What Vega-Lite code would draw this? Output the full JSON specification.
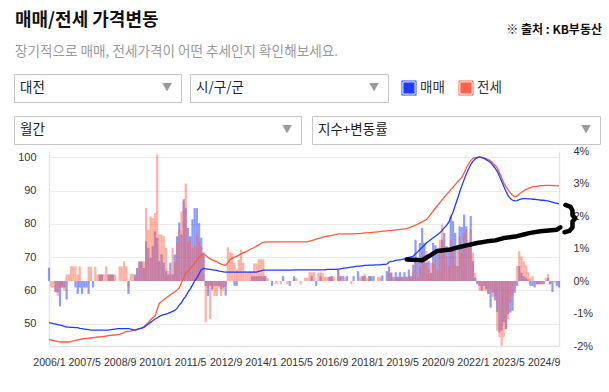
{
  "$schema": "https://vega.github.io/schema/vega-lite/v6.json",
  "background": "white",
  "padding": {"left": 13, "top": 0, "right": 0, "bottom": 0},
  "config": {
    "font": "Noto Sans CJK KR",
    "view": {"stroke": null},
    "axis": {"labelFont": "Liberation Sans", "labelFontSize": 11, "labelColor": "#333333", "ticks": false, "domainColor": "#e4e4e4", "domainWidth": 1.5, "labelOverlap": false, "gridColor": "#ebebeb", "gridWidth": 1},
    "axisX": {"labelFlush": false, "labelPadding": 11, "grid": false, "labelOverlap": false, "labelSeparation": 0, "tickCount": 30, "labelFontSize": 10.6}
  },
  "datasets": {
    "kb": [
      {"d":"2006-01","s":50.3,"j":45.3,"sr":0.41,"jr":0},
      {"d":"2006-02","s":50.2,"j":45.1,"sr":0,"jr":-0.2},
      {"d":"2006-03","s":50.0,"j":45.0,"sr":0,"jr":-0.2},
      {"d":"2006-04","s":49.9,"j":44.8,"sr":-0.35,"jr":-0.3},
      {"d":"2006-05","s":49.7,"j":44.7,"sr":-0.35,"jr":-0.45},
      {"d":"2006-06","s":49.6,"j":44.5,"sr":-0.78,"jr":-0.2},
      {"d":"2006-07","s":49.4,"j":44.5,"sr":-0.2,"jr":-0.2},
      {"d":"2006-08","s":49.2,"j":44.5,"sr":-0.2,"jr":-0.3},
      {"d":"2006-09","s":49.0,"j":44.5,"sr":-0.57,"jr":0.2},
      {"d":"2006-10","s":49.0,"j":44.5,"sr":0,"jr":0.2},
      {"d":"2006-11","s":48.9,"j":44.6,"sr":0,"jr":0.45},
      {"d":"2006-12","s":48.9,"j":44.8,"sr":0,"jr":0.45},
      {"d":"2007-01","s":48.8,"j":45.0,"sr":-0.2,"jr":0.45},
      {"d":"2007-02","s":48.8,"j":45.1,"sr":-0.4,"jr":0.2},
      {"d":"2007-03","s":48.6,"j":45.3,"sr":-0.2,"jr":0.45},
      {"d":"2007-04","s":48.5,"j":45.4,"sr":-0.4,"jr":0},
      {"d":"2007-05","s":48.4,"j":45.5,"sr":-0.2,"jr":0},
      {"d":"2007-06","s":48.3,"j":45.6,"sr":-0.2,"jr":0},
      {"d":"2007-07","s":48.2,"j":45.6,"sr":-0.4,"jr":0.44},
      {"d":"2007-08","s":48.1,"j":45.7,"sr":0,"jr":0.44},
      {"d":"2007-09","s":48.1,"j":45.8,"sr":-0.2,"jr":0},
      {"d":"2007-10","s":48.1,"j":45.9,"sr":0,"jr":0.44},
      {"d":"2007-11","s":48.1,"j":46.0,"sr":0,"jr":0.2},
      {"d":"2007-12","s":48.1,"j":46.0,"sr":0.2,"jr":0.2},
      {"d":"2008-01","s":48.1,"j":46.1,"sr":0.2,"jr":0.2},
      {"d":"2008-02","s":48.1,"j":46.2,"sr":0,"jr":0.2},
      {"d":"2008-03","s":48.1,"j":46.3,"sr":0,"jr":0.45},
      {"d":"2008-04","s":48.1,"j":46.4,"sr":0.2,"jr":0.2},
      {"d":"2008-05","s":48.2,"j":46.5,"sr":0.2,"jr":0.2},
      {"d":"2008-06","s":48.3,"j":46.6,"sr":0.2,"jr":0.2},
      {"d":"2008-07","s":48.4,"j":46.6,"sr":0,"jr":0.2},
      {"d":"2008-08","s":48.5,"j":46.7,"sr":0,"jr":0},
      {"d":"2008-09","s":48.5,"j":46.8,"sr":0,"jr":0.45},
      {"d":"2008-10","s":48.5,"j":47.1,"sr":0,"jr":0.45},
      {"d":"2008-11","s":48.5,"j":47.3,"sr":0,"jr":0.6},
      {"d":"2008-12","s":48.5,"j":47.6,"sr":0,"jr":0.45},
      {"d":"2009-01","s":48.5,"j":47.7,"sr":-0.4,"jr":-0.2},
      {"d":"2009-02","s":48.4,"j":47.8,"sr":0,"jr":0.22},
      {"d":"2009-03","s":48.2,"j":48.0,"sr":0,"jr":0.22},
      {"d":"2009-04","s":48.1,"j":48.1,"sr":0.2,"jr":0.1},
      {"d":"2009-05","s":48.3,"j":48.3,"sr":0.4,"jr":0.4},
      {"d":"2009-06","s":48.5,"j":48.5,"sr":0.6,"jr":0.6},
      {"d":"2009-07","s":48.7,"j":48.7,"sr":0.6,"jr":0.6},
      {"d":"2009-08","s":48.9,"j":49.1,"sr":0.4,"jr":0.6},
      {"d":"2009-09","s":49.4,"j":49.8,"sr":1.22,"jr":2.24},
      {"d":"2009-10","s":49.9,"j":50.4,"sr":1.02,"jr":1.58},
      {"d":"2009-11","s":50.4,"j":51.2,"sr":0.71,"jr":1.99},
      {"d":"2009-12","s":50.9,"j":51.8,"sr":1.07,"jr":1.94},
      {"d":"2010-01","s":51.4,"j":52.3,"sr":1.53,"jr":2.09},
      {"d":"2010-02","s":51.8,"j":54.3,"sr":1.33,"jr":3.9},
      {"d":"2010-03","s":52.2,"j":56.1,"sr":0.61,"jr":1.43},
      {"d":"2010-04","s":52.5,"j":56.7,"sr":0.82,"jr":1.43},
      {"d":"2010-05","s":52.7,"j":57.2,"sr":0.56,"jr":1.38},
      {"d":"2010-06","s":52.9,"j":57.7,"sr":0.31,"jr":1.02},
      {"d":"2010-07","s":53.1,"j":58.2,"sr":0.2,"jr":0.31},
      {"d":"2010-08","s":53.4,"j":58.7,"sr":0.56,"jr":0.2},
      {"d":"2010-09","s":53.7,"j":59.2,"sr":0.2,"jr":1.02},
      {"d":"2010-10","s":54.0,"j":59.6,"sr":0.82,"jr":0.56},
      {"d":"2010-11","s":54.6,"j":60.1,"sr":1.38,"jr":1.17},
      {"d":"2010-12","s":55.6,"j":60.8,"sr":1.8,"jr":1.58},
      {"d":"2011-01","s":56.3,"j":62.3,"sr":1.43,"jr":2.14},
      {"d":"2011-02","s":57.5,"j":64.0,"sr":2.52,"jr":2.45},
      {"d":"2011-03","s":58.2,"j":65.2,"sr":2.24,"jr":3.0},
      {"d":"2011-04","s":59.5,"j":65.8,"sr":1.63,"jr":1.22},
      {"d":"2011-05","s":60.4,"j":66.6,"sr":1.38,"jr":1.33},
      {"d":"2011-06","s":61.6,"j":67.4,"sr":1.9,"jr":1.02},
      {"d":"2011-07","s":62.9,"j":68.2,"sr":2.24,"jr":1.07},
      {"d":"2011-08","s":63.8,"j":69.1,"sr":2.24,"jr":1.43},
      {"d":"2011-09","s":65.0,"j":70.0,"sr":1.78,"jr":1.22},
      {"d":"2011-10","s":66.2,"j":70.6,"sr":1.33,"jr":1.07},
      {"d":"2011-11","s":66.6,"j":71.1,"sr":0.87,"jr":0.77},
      {"d":"2011-12","s":66.5,"j":70.5,"sr":-0.15,"jr":-1.27},
      {"d":"2012-01","s":66.4,"j":70.0,"sr":-0.46,"jr":-0.2},
      {"d":"2012-02","s":66.3,"j":69.5,"sr":-0.15,"jr":-1.17},
      {"d":"2012-03","s":66.2,"j":69.2,"sr":-0.25,"jr":-0.3},
      {"d":"2012-04","s":66.1,"j":68.9,"sr":-0.15,"jr":-0.46},
      {"d":"2012-05","s":66.0,"j":68.6,"sr":-0.15,"jr":-0.46},
      {"d":"2012-06","s":65.8,"j":68.2,"sr":-0.15,"jr":-0.2},
      {"d":"2012-07","s":65.7,"j":67.9,"sr":-0.25,"jr":-0.46},
      {"d":"2012-08","s":65.6,"j":67.7,"sr":-0.2,"jr":-0.3},
      {"d":"2012-09","s":65.5,"j":67.5,"sr":-0.45,"jr":-0.15},
      {"d":"2012-10","s":65.5,"j":68.3,"sr":0,"jr":1.04},
      {"d":"2012-11","s":65.5,"j":69.3,"sr":0,"jr":0.89},
      {"d":"2012-12","s":65.5,"j":69.7,"sr":0,"jr":0.85},
      {"d":"2013-01","s":65.5,"j":70.0,"sr":-0.15,"jr":0.55},
      {"d":"2013-02","s":65.5,"j":70.3,"sr":-0.15,"jr":0.35},
      {"d":"2013-03","s":65.5,"j":70.6,"sr":0,"jr":0.66},
      {"d":"2013-04","s":65.5,"j":71.0,"sr":0,"jr":0.97},
      {"d":"2013-05","s":65.5,"j":71.3,"sr":0,"jr":0.56},
      {"d":"2013-06","s":65.5,"j":71.6,"sr":0,"jr":0.3},
      {"d":"2013-07","s":65.5,"j":71.9,"sr":0,"jr":0.3},
      {"d":"2013-08","s":65.5,"j":72.3,"sr":0,"jr":0.3},
      {"d":"2013-09","s":65.5,"j":72.6,"sr":0.15,"jr":0.3},
      {"d":"2013-10","s":65.5,"j":72.9,"sr":0.15,"jr":0.54},
      {"d":"2013-11","s":65.5,"j":73.3,"sr":0.15,"jr":0.54},
      {"d":"2013-12","s":65.7,"j":73.7,"sr":0.15,"jr":0.67},
      {"d":"2014-01","s":65.9,"j":74.1,"sr":0.15,"jr":0.67},
      {"d":"2014-02","s":66.1,"j":74.5,"sr":0.15,"jr":0.66},
      {"d":"2014-03","s":66.1,"j":74.5,"sr":0.15,"jr":0.15},
      {"d":"2014-04","s":66.1,"j":74.6,"sr":0,"jr":0.1},
      {"d":"2014-05","s":66.1,"j":74.6,"sr":0,"jr":0},
      {"d":"2014-06","s":66.1,"j":74.6,"sr":-0.15,"jr":0},
      {"d":"2014-07","s":66.1,"j":74.6,"sr":0,"jr":0},
      {"d":"2014-08","s":66.1,"j":74.6,"sr":0,"jr":-0.1},
      {"d":"2014-09","s":66.1,"j":74.6,"sr":0,"jr":0},
      {"d":"2014-10","s":66.1,"j":74.6,"sr":0,"jr":-0.1},
      {"d":"2014-11","s":66.1,"j":74.6,"sr":0.15,"jr":0},
      {"d":"2014-12","s":66.1,"j":74.6,"sr":0,"jr":0},
      {"d":"2015-01","s":66.1,"j":74.6,"sr":0,"jr":-0.1},
      {"d":"2015-02","s":66.1,"j":74.6,"sr":-0.15,"jr":0},
      {"d":"2015-03","s":66.1,"j":74.6,"sr":0,"jr":0},
      {"d":"2015-04","s":66.2,"j":74.6,"sr":0.15,"jr":0.05},
      {"d":"2015-05","s":66.2,"j":74.6,"sr":0,"jr":0.1},
      {"d":"2015-06","s":66.2,"j":74.6,"sr":0,"jr":0},
      {"d":"2015-07","s":66.2,"j":74.6,"sr":0,"jr":-0.1},
      {"d":"2015-08","s":66.2,"j":74.6,"sr":0,"jr":0},
      {"d":"2015-09","s":66.2,"j":74.6,"sr":0,"jr":0.1},
      {"d":"2015-10","s":66.2,"j":74.6,"sr":0,"jr":0.1},
      {"d":"2015-11","s":66.2,"j":74.8,"sr":0,"jr":0.27},
      {"d":"2015-12","s":66.2,"j":75.0,"sr":0.15,"jr":0.27},
      {"d":"2016-01","s":66.2,"j":75.2,"sr":0,"jr":0.27},
      {"d":"2016-02","s":66.2,"j":75.4,"sr":-0.15,"jr":0},
      {"d":"2016-03","s":66.2,"j":75.6,"sr":0,"jr":0.25},
      {"d":"2016-04","s":66.2,"j":75.8,"sr":0.15,"jr":0.27},
      {"d":"2016-05","s":66.2,"j":76.0,"sr":0,"jr":0.25},
      {"d":"2016-06","s":66.2,"j":76.2,"sr":0,"jr":0.13},
      {"d":"2016-07","s":66.3,"j":76.3,"sr":0,"jr":0.13},
      {"d":"2016-08","s":66.3,"j":76.4,"sr":0.13,"jr":0.13},
      {"d":"2016-09","s":66.3,"j":76.5,"sr":0.15,"jr":0.15},
      {"d":"2016-10","s":66.3,"j":76.7,"sr":0,"jr":0.13},
      {"d":"2016-11","s":66.3,"j":76.8,"sr":0,"jr":0},
      {"d":"2016-12","s":66.4,"j":77.0,"sr":0.34,"jr":0.34},
      {"d":"2017-01","s":66.5,"j":77.0,"sr":0.15,"jr":0.13},
      {"d":"2017-02","s":66.6,"j":77.0,"sr":0.15,"jr":0},
      {"d":"2017-03","s":66.7,"j":77.0,"sr":0,"jr":0.13},
      {"d":"2017-04","s":66.8,"j":77.0,"sr":0.15,"jr":0},
      {"d":"2017-05","s":66.9,"j":77.0,"sr":0,"jr":0},
      {"d":"2017-06","s":67.0,"j":77.0,"sr":0,"jr":-0.1},
      {"d":"2017-07","s":67.1,"j":77.0,"sr":0.15,"jr":0},
      {"d":"2017-08","s":67.2,"j":77.1,"sr":0,"jr":0},
      {"d":"2017-09","s":67.3,"j":77.1,"sr":0.3,"jr":0},
      {"d":"2017-10","s":67.3,"j":77.1,"sr":0,"jr":0.13},
      {"d":"2017-11","s":67.4,"j":77.2,"sr":0.15,"jr":0.15},
      {"d":"2017-12","s":67.5,"j":77.3,"sr":0.15,"jr":0.23},
      {"d":"2018-01","s":67.5,"j":77.3,"sr":0,"jr":0.1},
      {"d":"2018-02","s":67.6,"j":77.4,"sr":0.15,"jr":0.15},
      {"d":"2018-03","s":67.6,"j":77.4,"sr":0.15,"jr":0},
      {"d":"2018-04","s":67.6,"j":77.5,"sr":0.15,"jr":0},
      {"d":"2018-05","s":67.7,"j":77.5,"sr":0,"jr":0},
      {"d":"2018-06","s":67.7,"j":77.6,"sr":0,"jr":0.13},
      {"d":"2018-07","s":67.7,"j":77.7,"sr":0,"jr":0.13},
      {"d":"2018-08","s":67.8,"j":77.8,"sr":0.17,"jr":0},
      {"d":"2018-09","s":67.8,"j":77.8,"sr":0,"jr":0},
      {"d":"2018-10","s":67.9,"j":77.9,"sr":0.3,"jr":0},
      {"d":"2018-11","s":68.5,"j":78.0,"sr":0.44,"jr":0.25},
      {"d":"2018-12","s":68.7,"j":78.0,"sr":0.25,"jr":0.27},
      {"d":"2019-01","s":68.8,"j":78.1,"sr":0.13,"jr":0},
      {"d":"2019-02","s":69.0,"j":78.2,"sr":0.27,"jr":0.1},
      {"d":"2019-03","s":69.1,"j":78.3,"sr":0.13,"jr":0.13},
      {"d":"2019-04","s":69.2,"j":78.3,"sr":0.27,"jr":0.1},
      {"d":"2019-05","s":69.3,"j":78.4,"sr":0.13,"jr":0.13},
      {"d":"2019-06","s":69.5,"j":78.5,"sr":0.27,"jr":0.1},
      {"d":"2019-07","s":69.7,"j":78.6,"sr":0.13,"jr":0.1},
      {"d":"2019-08","s":69.9,"j":78.8,"sr":0.35,"jr":0.15},
      {"d":"2019-09","s":70.1,"j":79.1,"sr":0.15,"jr":0.13},
      {"d":"2019-10","s":70.3,"j":79.3,"sr":0.5,"jr":0.3},
      {"d":"2019-11","s":71.0,"j":79.6,"sr":1.27,"jr":0.66},
      {"d":"2019-12","s":71.6,"j":79.9,"sr":0.56,"jr":0.13},
      {"d":"2020-01","s":72.3,"j":80.3,"sr":1.17,"jr":0.46},
      {"d":"2020-02","s":73.0,"j":80.6,"sr":1.63,"jr":0.92},
      {"d":"2020-03","s":73.6,"j":81.0,"sr":1.17,"jr":0.56},
      {"d":"2020-04","s":74.3,"j":81.3,"sr":0.56,"jr":0.92},
      {"d":"2020-05","s":74.8,"j":82.1,"sr":0.61,"jr":0.35},
      {"d":"2020-06","s":75.3,"j":83.0,"sr":0.25,"jr":0.56},
      {"d":"2020-07","s":75.8,"j":83.8,"sr":1.17,"jr":0.56},
      {"d":"2020-08","s":76.3,"j":84.7,"sr":1.1,"jr":0.7},
      {"d":"2020-09","s":76.8,"j":85.6,"sr":0.87,"jr":0.35},
      {"d":"2020-10","s":77.3,"j":86.4,"sr":0.97,"jr":1.27},
      {"d":"2020-11","s":78.0,"j":87.2,"sr":1.27,"jr":1.73},
      {"d":"2020-12","s":78.8,"j":88.0,"sr":1.48,"jr":1.07},
      {"d":"2021-01","s":79.5,"j":88.8,"sr":1.07,"jr":0.77},
      {"d":"2021-02","s":80.5,"j":89.5,"sr":0.92,"jr":0.46},
      {"d":"2021-03","s":82.0,"j":90.3,"sr":2.02,"jr":1.27},
      {"d":"2021-04","s":83.5,"j":91.0,"sr":1.84,"jr":1.07},
      {"d":"2021-05","s":85.5,"j":91.8,"sr":1.48,"jr":0.5},
      {"d":"2021-06","s":87.5,"j":92.6,"sr":0.46,"jr":1.02},
      {"d":"2021-07","s":89.5,"j":93.3,"sr":1.68,"jr":1.37},
      {"d":"2021-08","s":91.5,"j":94.0,"sr":1.66,"jr":0.87},
      {"d":"2021-09","s":93.3,"j":95.3,"sr":2.04,"jr":1.48},
      {"d":"2021-10","s":95.0,"j":96.8,"sr":1.68,"jr":1.58},
      {"d":"2021-11","s":96.5,"j":98.0,"sr":1.07,"jr":1.02},
      {"d":"2021-12","s":97.8,"j":99.0,"sr":2.0,"jr":1.58},
      {"d":"2022-01","s":98.8,"j":99.7,"sr":0.61,"jr":0.87},
      {"d":"2022-02","s":99.5,"j":99.9,"sr":0.1,"jr":0.25},
      {"d":"2022-03","s":99.9,"j":100.0,"sr":-0.1,"jr":-0.05},
      {"d":"2022-04","s":100.1,"j":100.0,"sr":-0.15,"jr":-0.3},
      {"d":"2022-05","s":100.0,"j":99.9,"sr":-0.3,"jr":-0.3},
      {"d":"2022-06","s":99.7,"j":99.8,"sr":-0.15,"jr":-0.3},
      {"d":"2022-07","s":99.3,"j":99.6,"sr":-0.25,"jr":-0.3},
      {"d":"2022-08","s":98.9,"j":99.3,"sr":-0.4,"jr":-0.4},
      {"d":"2022-09","s":98.4,"j":98.9,"sr":-0.82,"jr":-0.25},
      {"d":"2022-10","s":97.6,"j":98.3,"sr":-0.36,"jr":-0.5},
      {"d":"2022-11","s":96.8,"j":97.6,"sr":-0.6,"jr":-0.46},
      {"d":"2022-12","s":95.8,"j":96.9,"sr":-0.95,"jr":-1.53},
      {"d":"2023-01","s":94.3,"j":95.4,"sr":-1.58,"jr":-1.73},
      {"d":"2023-02","s":92.7,"j":93.8,"sr":-1.53,"jr":-1.99},
      {"d":"2023-03","s":91.3,"j":92.3,"sr":-1.27,"jr":-1.73},
      {"d":"2023-04","s":89.8,"j":91.2,"sr":-1.48,"jr":-1.48},
      {"d":"2023-05","s":88.5,"j":90.2,"sr":-1.02,"jr":-1.17},
      {"d":"2023-06","s":87.6,"j":89.3,"sr":-0.97,"jr":-0.66},
      {"d":"2023-07","s":87.1,"j":88.6,"sr":-0.92,"jr":-0.46},
      {"d":"2023-08","s":86.9,"j":88.1,"sr":-0.36,"jr":-0.15},
      {"d":"2023-09","s":87.0,"j":88.4,"sr":-0.15,"jr":0.46},
      {"d":"2023-10","s":87.3,"j":89.0,"sr":0.46,"jr":0.92},
      {"d":"2023-11","s":87.5,"j":89.5,"sr":0.25,"jr":0.76},
      {"d":"2023-12","s":87.6,"j":89.9,"sr":0.15,"jr":0.61},
      {"d":"2024-01","s":87.6,"j":90.3,"sr":0.1,"jr":0.5},
      {"d":"2024-02","s":87.5,"j":90.6,"sr":0.05,"jr":0.27},
      {"d":"2024-03","s":87.5,"j":90.9,"sr":-0.15,"jr":0.1},
      {"d":"2024-04","s":87.4,"j":91.1,"sr":-0.15,"jr":0.15},
      {"d":"2024-05","s":87.4,"j":91.2,"sr":-0.2,"jr":0},
      {"d":"2024-06","s":87.3,"j":91.3,"sr":-0.1,"jr":-0.1},
      {"d":"2024-07","s":87.2,"j":91.4,"sr":-0.1,"jr":-0.1},
      {"d":"2024-08","s":87.1,"j":91.5,"sr":-0.1,"jr":-0.1},
      {"d":"2024-09","s":87.1,"j":91.5,"sr":-0.1,"jr":-0.1},
      {"d":"2024-10","s":87.0,"j":91.6,"sr":0,"jr":0.1},
      {"d":"2024-11","s":86.9,"j":91.6,"sr":0.1,"jr":0.22},
      {"d":"2024-12","s":86.7,"j":91.6,"sr":-0.1,"jr":-0.1},
      {"d":"2025-01","s":86.5,"j":91.5,"sr":-0.34,"jr":0},
      {"d":"2025-02","s":86.3,"j":91.5,"sr":0,"jr":-0.05},
      {"d":"2025-03","s":86.2,"j":91.4,"sr":-0.15,"jr":0},
      {"d":"2025-04","s":86.0,"j":91.4,"sr":-0.2,"jr":-0.07}
    ],
    "ann": [
      {"g":"a","o":1,"d":"2019-07-04","v":0.66},
      {"g":"a","o":2,"d":"2020-02-01","v":0.64},
      {"g":"a","o":3,"d":"2020-05-01","v":0.76},
      {"g":"a","o":4,"d":"2020-08-22","v":0.92},
      {"g":"a","o":5,"d":"2021-02-25","v":0.97},
      {"g":"a","o":6,"d":"2021-06-16","v":1.04},
      {"g":"a","o":7,"d":"2021-09-19","v":1.09},
      {"g":"a","o":8,"d":"2022-02-28","v":1.17},
      {"g":"a","o":9,"d":"2022-07-13","v":1.22},
      {"g":"a","o":10,"d":"2022-11-07","v":1.25},
      {"g":"a","o":11,"d":"2023-02-28","v":1.32},
      {"g":"a","o":12,"d":"2023-09-01","v":1.38},
      {"g":"a","o":13,"d":"2023-12-01","v":1.43},
      {"g":"a","o":14,"d":"2024-03-01","v":1.48},
      {"g":"a","o":15,"d":"2024-07-19","v":1.53},
      {"g":"a","o":16,"d":"2025-03-04","v":1.58},
      {"g":"a","o":17,"d":"2025-04-19","v":1.65},
      {"g":"b","o":1,"d":"2025-06-28","v":2.34},
      {"g":"b","o":2,"d":"2025-09-07","v":2.28},
      {"g":"b","o":3,"d":"2025-10-04","v":2.17},
      {"g":"b","o":4,"d":"2025-10-04","v":2.02},
      {"g":"b","o":5,"d":"2025-11-13","v":1.93},
      {"g":"b","o":6,"d":"2025-10-04","v":1.83},
      {"g":"b","o":7,"d":"2025-10-04","v":1.65},
      {"g":"b","o":8,"d":"2025-08-22","v":1.54},
      {"g":"b","o":9,"d":"2025-06-16","v":1.50}
    ],
    "legend": [{"k":"매매"},{"k":"전세"}]
  },
  "spacing": 0,
  "vconcat": [
    {
      "width": 588, "height": 73,
      "data": {"values": [{"t": 1}]},
      "layer": [
        {"mark": {"type": "text", "text": "매매/전세 가격변동", "align": "left", "baseline": "middle", "dx": 1, "dy": -15.5, "fontSize": 18, "fontWeight": "bold", "color": "#111111"},
         "encoding": {"x": {"datum": 0, "type": "quantitative", "scale": {"domain": [0, 1]}, "axis": null}}},
        {"mark": {"type": "text", "text": "※ 출처 : KB부동산", "align": "right", "baseline": "middle", "dy": -6.5, "fontSize": 12, "fontWeight": "bold", "color": "#111111"},
         "encoding": {"x": {"datum": 1, "type": "quantitative", "axis": null}}},
        {"mark": {"type": "text", "text": "장기적으로 매매, 전세가격이 어떤 추세인지 확인해보세요.", "align": "left", "baseline": "middle", "dx": 1, "dy": 15.5, "fontSize": 13.6, "color": "#9a9a9a"},
         "encoding": {"x": {"datum": 0, "type": "quantitative", "axis": null}}}
      ]
    },
    {
      "spacing": 12,
      "vconcat": [
        {
          "spacing": 7,
          "hconcat": [
            {
              "width": 167, "height": 28,
              "view": {"stroke": "#c6c6cc", "strokeWidth": 1},
              "data": {"values": [{"label": "대전"}]},
              "layer": [
                {"mark": {"type": "text", "align": "left", "dx": 6, "fontSize": 13.5, "color": "#222222"},
                 "encoding": {"text": {"field": "label"}, "x": {"datum": 0, "type": "quantitative", "scale": {"domain": [0, 1]}, "axis": null}}},
                {"mark": {"type": "text", "align": "right", "dx": -9, "fontSize": 10, "color": "#9a9a9a", "text": "▼"},
                 "encoding": {"x": {"datum": 1, "type": "quantitative", "axis": null}}}
              ]
            },
            {
              "width": 198, "height": 28,
              "view": {"stroke": "#c6c6cc", "strokeWidth": 1},
              "data": {"values": [{"label": "시/구/군"}]},
              "layer": [
                {"mark": {"type": "text", "align": "left", "dx": 6, "fontSize": 13.5, "color": "#222222"},
                 "encoding": {"text": {"field": "label"}, "x": {"datum": 0, "type": "quantitative", "scale": {"domain": [0, 1]}, "axis": null}}},
                {"mark": {"type": "text", "align": "right", "dx": -9, "fontSize": 10, "color": "#9a9a9a", "text": "▼"},
                 "encoding": {"x": {"datum": 1, "type": "quantitative", "axis": null}}}
              ]
            },
            {
              "width": 83, "height": 28,
              "data": {"name": "legend"},
              "layer": [
                {"mark": {"type": "point", "shape": "square", "filled": true, "size": 225, "opacity": 1},
                 "encoding": {
                   "x": {"field": "k", "type": "nominal", "scale": {"type": "point", "padding": 0.228}, "axis": null},
                   "color": {"field": "k", "type": "nominal", "scale": {"domain": ["매매", "전세"], "range": ["#1f3bff", "#ff6347"]}, "legend": null}}},
                {"mark": {"type": "point", "shape": "square", "filled": false, "size": 150, "stroke": "white", "strokeWidth": 1, "opacity": 1},
                 "encoding": {"x": {"field": "k", "type": "nominal", "axis": null}}},
                {"mark": {"type": "text", "align": "left", "dx": 11, "fontSize": 13.5, "color": "#333333"},
                 "encoding": {"x": {"field": "k", "type": "nominal", "axis": null}, "text": {"field": "k"}}}
              ]
            }
          ]
        },
        {
          "spacing": 9,
          "hconcat": [
            {
              "width": 287, "height": 28,
              "view": {"stroke": "#c6c6cc", "strokeWidth": 1},
              "data": {"values": [{"label": "월간"}]},
              "layer": [
                {"mark": {"type": "text", "align": "left", "dx": 6, "fontSize": 13.5, "color": "#222222"},
                 "encoding": {"text": {"field": "label"}, "x": {"datum": 0, "type": "quantitative", "scale": {"domain": [0, 1]}, "axis": null}}},
                {"mark": {"type": "text", "align": "right", "dx": -9, "fontSize": 10, "color": "#9a9a9a", "text": "▼"},
                 "encoding": {"x": {"datum": 1, "type": "quantitative", "axis": null}}}
              ]
            },
            {
              "width": 288, "height": 28,
              "view": {"stroke": "#c6c6cc", "strokeWidth": 1},
              "data": {"values": [{"label": "지수+변동률"}]},
              "layer": [
                {"mark": {"type": "text", "align": "left", "dx": 6, "fontSize": 13.5, "color": "#222222"},
                 "encoding": {"text": {"field": "label"}, "x": {"datum": 0, "type": "quantitative", "scale": {"domain": [0, 1]}, "axis": null}}},
                {"mark": {"type": "text", "align": "right", "dx": -9, "fontSize": 10, "color": "#9a9a9a", "text": "▼"},
                 "encoding": {"x": {"datum": 1, "type": "quantitative", "axis": null}}}
              ]
            }
          ]
        }
      ]
    },
    {
      "spacing": 2,
      "hconcat": [
        {"width": 1, "height": 195, "data": {"values": [{"label": ""}]}, "mark": {"type": "text", "text": ""}},
        {
          "width": 510, "height": 195,
          "data": {"name": "kb"},
          "layer": [
            {"mark": {"type": "bar", "size": 2.2, "color": "#1f3bff", "opacity": 0.5},
             "encoding": {
               "x": {"field": "d", "type": "temporal",
                 "scale": {"type": "utc", "padding": 0, "domain": [{"year": 2006, "month": 1, "date": 1, "utc": true}, {"year": 2025, "month": 4, "date": 1, "utc": true}]},
                 "axis": {"values": [
                   {"year": 2006, "month": 1, "date": 1, "utc": true}, {"year": 2007, "month": 5, "date": 1, "utc": true},
                   {"year": 2008, "month": 9, "date": 1, "utc": true}, {"year": 2010, "month": 1, "date": 1, "utc": true},
                   {"year": 2011, "month": 5, "date": 1, "utc": true}, {"year": 2012, "month": 9, "date": 1, "utc": true},
                   {"year": 2014, "month": 1, "date": 1, "utc": true}, {"year": 2015, "month": 5, "date": 1, "utc": true},
                   {"year": 2016, "month": 9, "date": 1, "utc": true}, {"year": 2018, "month": 1, "date": 1, "utc": true},
                   {"year": 2019, "month": 5, "date": 1, "utc": true}, {"year": 2020, "month": 9, "date": 1, "utc": true},
                   {"year": 2022, "month": 1, "date": 1, "utc": true}, {"year": 2023, "month": 5, "date": 1, "utc": true},
                   {"year": 2024, "month": 9, "date": 1, "utc": true}],
                   "labelExpr": "utcFormat(datum.value, '%Y/%-m')", "title": null, "labelOverlap": false, "labelFlush": false, "labelSeparation": 0, "tickCount": 30, "labelFontSize": 10.6}},
               "y": {"field": "sr", "type": "quantitative",
                 "scale": {"domain": [-2, 4], "nice": false, "zero": false},
                 "axis": {"orient": "right", "values": [-2, -1, 0, 1, 2, 3, 4], "labelExpr": "datum.value + '%'",
                   "title": null, "grid": false, "labelPadding": 14, "labelOverlap": false, "tickCount": 10}}}},
            {"mark": {"type": "bar", "size": 2.2, "color": "#ff6347", "opacity": 0.5},
             "encoding": {
               "x": {"field": "d", "type": "temporal", "axis": {"labelOverlap": false, "labelFlush": false, "labelSeparation": 0, "title": null, "tickCount": 30, "labelFontSize": 10.6}},
               "y": {"field": "jr", "type": "quantitative", "scale": {"domain": [-2, 4], "nice": false, "zero": false}, "axis": null}}},
            {"mark": {"type": "line", "color": "#ff5a3a", "strokeWidth": 1.3},
             "encoding": {
               "x": {"field": "d", "type": "temporal", "axis": {"labelOverlap": false, "labelFlush": false, "labelSeparation": 0, "title": null, "tickCount": 30, "labelFontSize": 10.6}},
               "y": {"field": "j", "type": "quantitative",
                 "scale": {"domain": [43.3, 101.9], "nice": false, "zero": false},
                 "axis": {"orient": "left", "values": [50, 60, 70, 80, 90, 100], "title": null, "grid": true, "labelPadding": 13, "labelOverlap": false, "tickCount": 10}}}},
            {"mark": {"type": "line", "color": "#1f3bff", "strokeWidth": 1.3},
             "encoding": {
               "x": {"field": "d", "type": "temporal", "axis": {"labelOverlap": false, "labelFlush": false, "labelSeparation": 0, "title": null, "tickCount": 30, "labelFontSize": 10.6}},
               "y": {"field": "s", "type": "quantitative", "scale": {"domain": [43.3, 101.9], "nice": false, "zero": false}, "axis": null}}},
            {"data": {"name": "ann"},
             "mark": {"type": "line", "color": "#000000", "strokeWidth": 4.5, "strokeCap": "round", "strokeJoin": "round"},
             "encoding": {
               "x": {"field": "d", "type": "temporal", "axis": {"labelOverlap": false, "labelFlush": false, "labelSeparation": 0, "title": null, "tickCount": 30, "labelFontSize": 10.6}},
               "y": {"field": "v", "type": "quantitative", "scale": {"domain": [-2, 4], "nice": false, "zero": false}, "axis": null},
               "detail": {"field": "g"},
               "order": {"field": "o", "type": "quantitative"}}}
          ],
          "resolve": {"scale": {"y": "independent"}, "axis": {"y": "independent"}}
        }
      ]
    }
  ]
}
